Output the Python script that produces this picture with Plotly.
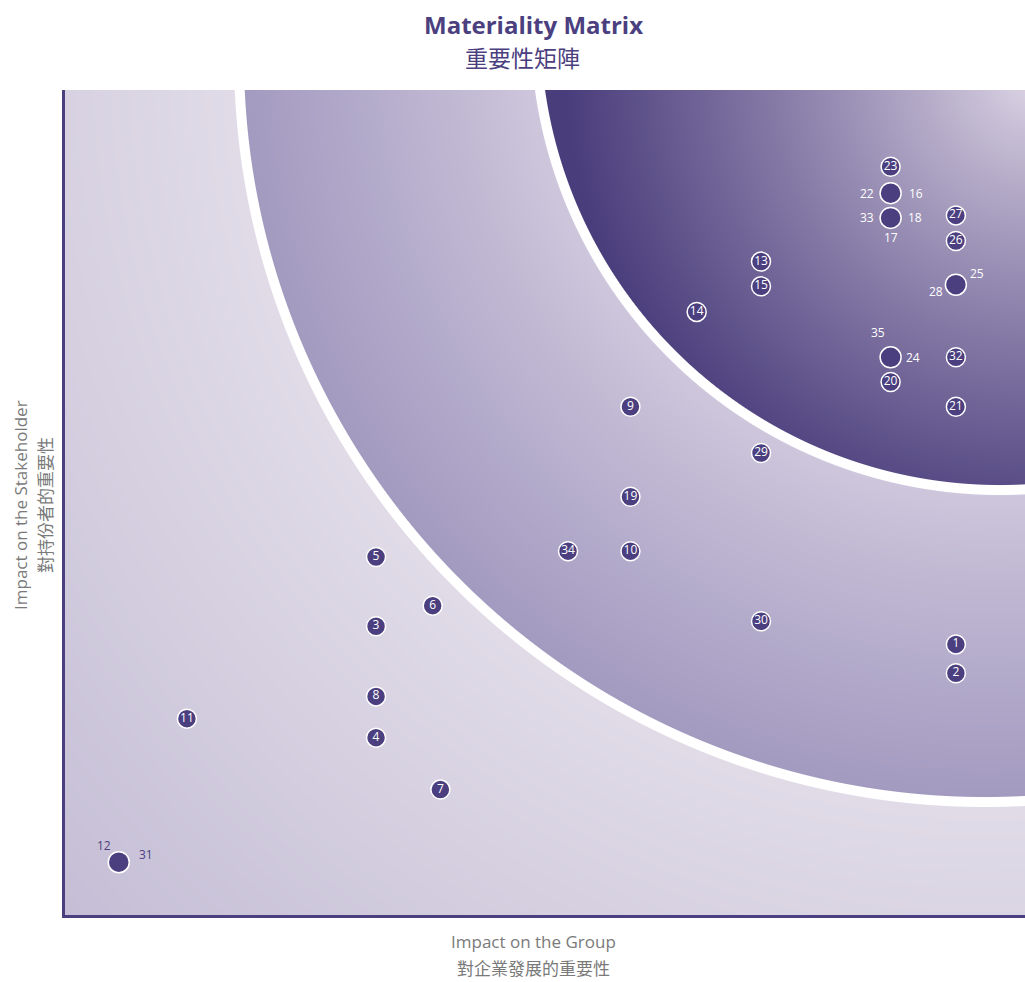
import numpy as np, zlib, struct, base64
import plotly.graph_objects as go

# ---------------- data ----------------
labels = ["23", "27", "26", "13", "15", "14", "32", "20", "21", "9", "29", "19",
          "34", "10", "5", "6", "3", "30", "1", "2", "8", "11", "4", "7"]
x_group = [8.60, 9.28, 9.28, 7.25, 7.25, 6.58, 9.28, 8.60, 9.28, 5.89, 7.25, 5.89,
           5.24, 5.89, 3.24, 3.83, 3.24, 7.25, 9.28, 9.28, 3.24, 1.27, 3.24, 3.91]
y_stake = [9.07, 8.48, 8.17, 7.92, 7.62, 7.31, 6.76, 6.46, 6.16, 6.16, 5.60, 5.07,
           4.41, 4.41, 4.34, 3.75, 3.50, 3.56, 3.28, 2.93, 2.65, 2.38, 2.15, 1.52]

# grouped (overlapping) topics: one marker, labels around it
grp_x = [8.60, 8.60, 9.28, 8.60, 0.56]
grp_y = [8.75, 8.45, 7.64, 6.76, 0.64]
grp_labels = [["22", "16"], ["33", "18", "17"], ["28", "25"], ["35", "24"], ["12", "31"]]
grp_shift = [[(-24, 0), (25, 0)], [(-24, 0), (24, 0), (0, -20)],
             [(-20, -7), (21, 11)], [(-13, 25), (22, 0)], [(-15, 17), (27, 8)]]
grp_color = ["white", "white", "white", "white", "#4b3f80"]

# zone boundaries (data units): ellipse centres / radii
outer = dict(cx=9.583, cy=10.412, rx=7.771, ry=9.042)
inner = dict(cx=9.740, cy=10.782, rx=4.839, ry=5.630)

# ---------------- background gradient image ----------------
W, H = 960, 825
sx, sy = W / 10.0, H / 10.0
px = (np.arange(W) + 0.5)
py = (np.arange(H) + 0.5)
X, Y = np.meshgrid(px, py)  # pixel coords inside plot area, y from top

def cpx(c):
    return c["cx"] * sx, H - c["cy"] * sy, c["rx"] * sx

ocx, ocy, orr = cpx(outer)
icx, icy, irr = cpx(inner)
d_o = np.hypot(X - ocx, Y - ocy)
d_i = np.hypot(X - icx, Y - icy)

def hexc(h):
    h = h.lstrip("#")
    return np.array([int(h[i:i + 2], 16) for i in (0, 2, 4)], float)

def lerp(c1, c2, t):
    t = np.clip(t, 0, 1)[..., None]
    return hexc(c1) * (1 - t) + hexc(c2) * t

img = np.zeros((H, W, 3))
t_out = (d_o - orr) / (1260 - orr)
col_out = lerp("#e1dce8", "#c5bed6", t_out)
den = (d_i - irr) + (orr - d_o)
t_mid = (d_i - irr) / np.where(den == 0, 1, den)
col_mid = lerp("#cfc8dd", "#a39ac0", t_mid ** 0.9)
d_c = np.hypot(X - (W + 10), Y + 15)
col_in = lerp("#e2dae9", "#4a3d7c", (d_c / 470.0) ** 0.85)

m_in = d_i <= irr
m_mid = (~m_in) & (d_o <= orr)
m_out = d_o > orr
img[m_out] = col_out[m_out]
img[m_mid] = col_mid[m_mid]
img[m_in] = col_in[m_in]

# white separating bands (anti-aliased)
half = 5.0
for d, r in ((d_o, orr), (d_i, irr)):
    a = np.clip(half + 0.5 - np.abs(d - r), 0, 1)[..., None]
    img = img * (1 - a) + 255 * a
img = np.clip(img, 0, 255).astype(np.uint8)

def png_bytes(a):
    h, w, _ = a.shape
    raw = b"".join(b"\x00" + a[r].tobytes() for r in range(h))
    def chunk(t, d):
        c = struct.pack(">I", len(d)) + t + d
        return c + struct.pack(">I", zlib.crc32(t + d) & 0xffffffff)
    return (b"\x89PNG\r\n\x1a\n" + chunk(b"IHDR", struct.pack(">IIBBBBB", w, h, 8, 2, 0, 0, 0))
            + chunk(b"IDAT", zlib.compress(raw, 9)) + chunk(b"IEND", b""))

src = "data:image/png;base64," + base64.b64encode(png_bytes(img)).decode()

# ---------------- figure ----------------
PURPLE = "#4b3f80"
FONT = "Open Sans, Noto Sans CJK TC, sans-serif"
fig = go.Figure()

fig.add_trace(go.Scatter(
    x=x_group, y=y_stake, mode="markers+text", text=labels,
    textposition="middle center",
    textfont=dict(color="white", size=12, family=FONT),
    marker=dict(size=19, color=PURPLE, line=dict(color="white", width=1.5)),
    hoverinfo="text", showlegend=False, cliponaxis=False))

fig.add_trace(go.Scatter(
    x=grp_x, y=grp_y, mode="markers",
    marker=dict(size=21, color=PURPLE, line=dict(color="white", width=1.5)),
    hoverinfo="skip", showlegend=False, cliponaxis=False))

ann = []
for gx, gy, labs, shifts, col in zip(grp_x, grp_y, grp_labels, grp_shift, grp_color):
    for lab, (dx, dy) in zip(labs, shifts):
        ann.append(dict(x=gx, y=gy, xref="x", yref="y", text=lab, showarrow=False,
                        xshift=dx, yshift=dy, font=dict(color=col, size=12, family=FONT)))

title_items = [
    ("<b>Materiality Matrix</b>", 533, 25, 24, PURPLE, 0),
    ("重要性矩陣", 522, 58, 23, PURPLE, 0),
    ("Impact on the Group", 533, 941, 17, "#7a7a7a", 0),
    ("對企業發展的重要性", 533, 968, 17, "#7a7a7a", 0),
    ("Impact on the Stakeholder", 20, 505, 17, "#7a7a7a", -90),
    ("對持份者的重要性", 45, 505, 17, "#7a7a7a", -90),
]
FW, FH = 1025, 982
ml, mr, mt, mb = 65, 0, 90, 67
for txt, xp, yp, sz, col, ang in title_items:
    ann.append(dict(
        x=(xp - ml) / (FW - ml - mr), y=(FH - mb - yp) / (FH - mt - mb),
        xref="paper", yref="paper", text=txt, showarrow=False, textangle=ang,
        xanchor="center", yanchor="middle",
        font=dict(color=col, size=sz, family=FONT)))

fig.update_layout(
    width=FW, height=FH, margin=dict(l=ml, r=mr, t=mt, b=mb, pad=0),
    paper_bgcolor="white", plot_bgcolor="white",
    annotations=ann,
    images=[dict(source=src, xref="x", yref="y", x=0, y=10, sizex=10, sizey=10,
                 xanchor="left", yanchor="top", sizing="stretch", layer="below")],
    xaxis=dict(range=[0, 10], showgrid=False, zeroline=False, showticklabels=False,
               ticks="", showline=True, linecolor=PURPLE, linewidth=3, fixedrange=True),
    yaxis=dict(range=[0, 10], showgrid=False, zeroline=False, showticklabels=False,
               ticks="", showline=True, linecolor=PURPLE, linewidth=3, fixedrange=True),
    font=dict(family=FONT),
)

fig.write_html("out.html", config={"displayModeBar": False},
               post_script="document.body.style.margin='0';document.body.style.overflow='hidden';")
